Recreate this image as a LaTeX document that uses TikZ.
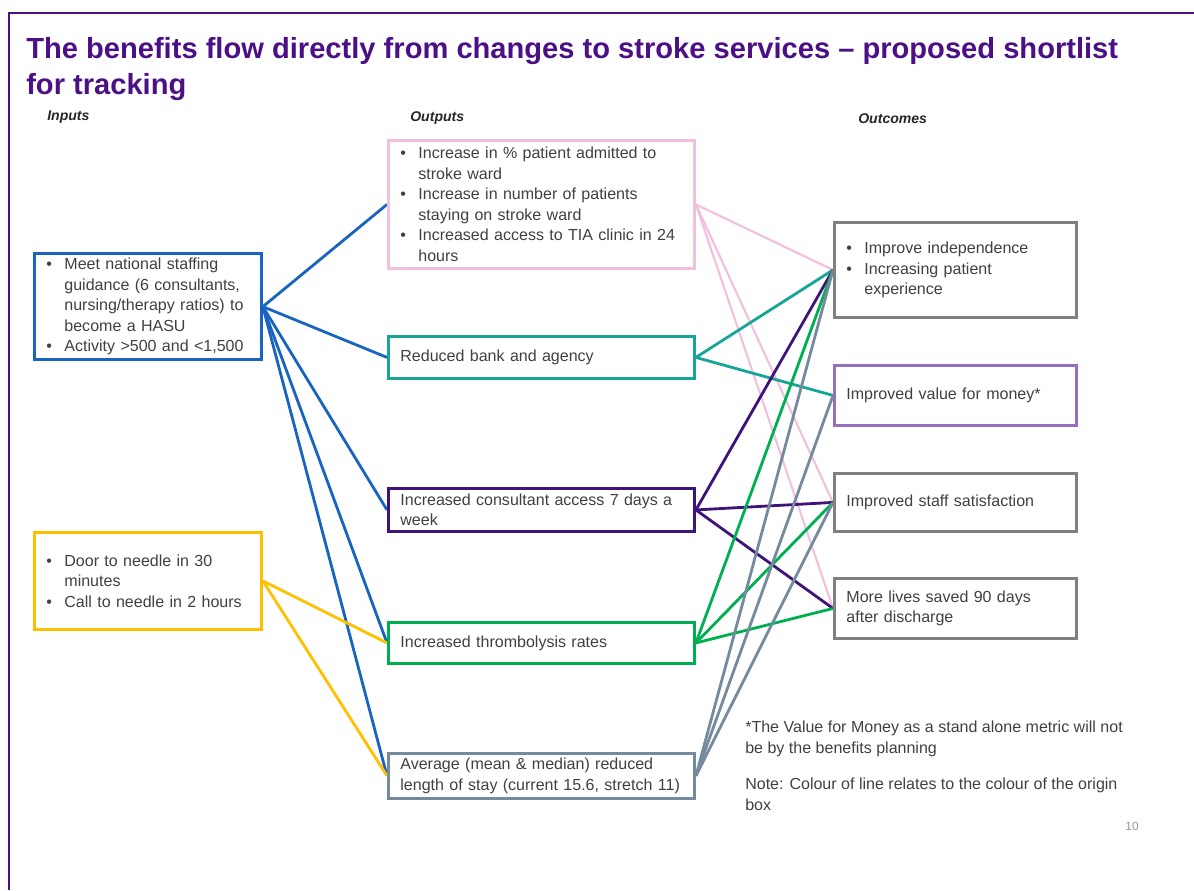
\documentclass[tikz,border=0pt]{standalone}
\usepackage{fontspec}
\setmainfont{Liberation Sans}
\definecolor{titlepurple}{RGB}{76, 16, 134}
\definecolor{inblue}{RGB}{24, 100, 192}
\definecolor{inyellow}{RGB}{255, 192, 0}
\definecolor{outpink}{RGB}{242, 192, 222}
\definecolor{outteal}{RGB}{22, 165, 150}
\definecolor{outpurple}{RGB}{62, 20, 122}
\definecolor{outgreen}{RGB}{0, 176, 80}
\definecolor{outslate}{RGB}{118, 138, 158}
\definecolor{resgray}{RGB}{128, 128, 128}
\definecolor{reslilac}{RGB}{150, 112, 192}
\definecolor{textgray}{RGB}{64, 64, 64}
\usetikzlibrary{positioning, backgrounds}
\newcommand{\boxfont}{\fontsize{11.4pt}{14.6pt}\selectfont}
\newcommand{\bitem}{\makebox[0.45cm][l]{\textbullet}}
\newcommand{\bindent}{\hspace*{0.45cm}}
\tikzset{
    box/.style={
        rectangle, draw=#1, fill=white, line width=2pt,
        text=textgray, font=\boxfont, align=left,
        inner xsep=0.3cm, anchor=north west
    },
    inbox/.style={box=#1, text width=5.075cm},
    outbox/.style={box=#1, text width=7.05cm},
    resbox/.style={box=#1, text width=5.45cm},
    link/.style={draw=#1, line width=2pt},
    pageframe/.style={draw=titlepurple, line width=1.5pt},
    titletext/.style={
        font=\fontsize{20.7pt}{26pt}\selectfont\bfseries,
        text=titlepurple, align=left, anchor=north west, inner sep=0pt
    },
    colhead/.style={font=\fontsize{10pt}{12pt}\selectfont\bfseries\itshape, text=black!85, anchor=west, inner sep=0pt},
    notetext/.style={font=\boxfont, text=textgray, align=left, anchor=north west, inner sep=0pt},
    pagenum/.style={font=\fontsize{8.5pt}{10pt}\selectfont, text=black!40, inner sep=0pt}
}
\begin{document}
\begin{tikzpicture}[x=0.025cm, y=-0.025cm]
    \useasboundingbox (0,0) rectangle (1194,890);

    % Frame and title
    \draw[pageframe] (9,890) -- (9,13) -- (1194,13);
    \node[titletext] (title) at (26,37) {The benefits flow directly from changes to stroke services -- proposed shortlist\\for tracking};

    % Column heads
    \node[colhead] (hin) at (47,117) {Inputs};
    \node[colhead] (hout) at (410,118) {Outputs};
    \node[colhead] (hres) at (858,119) {Outcomes};

    % Inputs
    \node[inbox=inblue, minimum height=2.6cm] (in1) at (33,252) {\bitem Meet national staffing\\ \bindent guidance (6 consultants,\\ \bindent nursing/therapy ratios) to\\ \bindent become a HASU\\ \bitem Activity >500 and <1,500};
    \node[inbox=inyellow, minimum height=2.425cm] (in2) at (33,531) {\bitem Door to needle in 30\\ \bindent minutes\\ \bitem Call to needle in 2 hours};

    % Outputs
    \node[outbox=outpink, minimum height=3.2cm] (out1) at (387,139) {\bitem Increase in \% patient admitted to\\ \bindent stroke ward\\ \bitem Increase in number of patients\\ \bindent staying on stroke ward\\ \bitem Increased access to TIA clinic in 24\\ \bindent hours};
    \node[outbox=outteal, minimum height=1.05cm] (out2) at (387,335) {Reduced bank and agency};
    \node[outbox=outpurple, minimum height=1.075cm] (out3) at (387,487) {Increased consultant access 7 days a\\week};
    \node[outbox=outgreen, minimum height=1.025cm] (out4) at (387,621) {Increased thrombolysis rates};
    \node[outbox=outslate, minimum height=1.05cm] (out5) at (387,752) {Average (mean \& median) reduced\\length of stay (current 15.6, stretch 11)};

    % Outcomes
    \node[resbox=resgray, minimum height=2.375cm] (res1) at (833,221) {\bitem Improve independence\\ \bitem Increasing patient\\ \bindent experience};
    \node[resbox=reslilac, minimum height=1.5cm] (res2) at (833,364) {Improved value for money*};
    \node[resbox=resgray, minimum height=1.45cm] (res3) at (833,472) {Improved staff satisfaction};
    \node[resbox=resgray, minimum height=1.5cm] (res4) at (833,577) {More lives saved 90 days\\after discharge};

    % Notes
    \node[notetext] (fn) at (745,721) {*The Value for Money as a stand alone metric will not\\be by the benefits planning\\[0.4cm]Note: Colour of line relates to the colour of the origin\\box};
    \node[pagenum] (pg) at (1132,826) {10};

    % Links, colour of the origin box
    \begin{scope}[on background layer]
        \foreach \o in {out1,out2,out3,out4,out5}
            \draw[link=inblue] (in1.east) -- (\o.west);
        \foreach \o in {out4,out5}
            \draw[link=inyellow] (in2.east) -- (\o.west);
        \foreach \r in {res1,res3,res4}
            \draw[link=outpink, line width=1.5pt] (out1.east) -- (\r.west);
        \foreach \r in {res1,res2}
            \draw[link=outteal] (out2.east) -- (\r.west);
        \foreach \r in {res1,res3,res4}
            \draw[link=outpurple] (out3.east) -- (\r.west);
        \foreach \r in {res1,res3,res4}
            \draw[link=outgreen] (out4.east) -- (\r.west);
        \foreach \r in {res1,res2,res3}
            \draw[link=outslate] (out5.east) -- (\r.west);
    \end{scope}
\end{tikzpicture}
\end{document}
